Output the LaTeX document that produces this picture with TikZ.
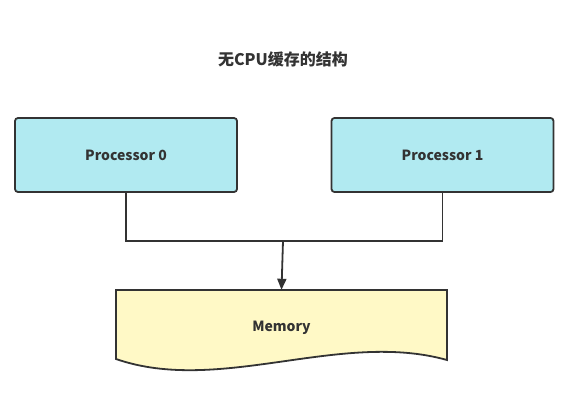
\documentclass[tikz,border=0pt]{standalone}
\usepackage{fontspec}
\setmainfont{Noto Sans CJK SC}
\usepackage{xcolor}
\usepackage{tikz}
\usetikzlibrary{positioning,arrows.meta}

\definecolor{linegray}{HTML}{333333}
\definecolor{procfill}{HTML}{B1EAF1}
\definecolor{memfill}{HTML}{FFF9C6}

\begin{document}
\begin{tikzpicture}[x=1pt, y=-1pt,
    title/.style={font=\fontsize{16pt}{19pt}\selectfont\bfseries, text=linegray},
    proc/.style={rectangle, draw=linegray, line width=1.8pt, rounded corners=3pt, fill=procfill,
        minimum width=222pt, minimum height=74pt, font=\fontsize{14pt}{17pt}\selectfont\bfseries, text=linegray},
    mem/.style={rectangle, minimum width=331pt, minimum height=70pt, font=\fontsize{14pt}{17pt}\selectfont\bfseries, text=linegray},
    wire/.style={draw=linegray, line width=1.8pt},
    arrow/.style={wire, -{Triangle[length=11pt, width=9pt]}}]
    \useasboundingbox (0,0) rectangle (577,404);

    \node[title] (title) at (283,59) {无CPU缓存的结构};
    \node[proc] (p0) at (126,155) {Processor 0};
    \node[proc] (p1) at (442.5,155) {Processor 1};
    \node[mem] (mem) at (281.5,325) {};

    % memory shape with wavy bottom
    \draw[wire, fill=memfill] (116,290) -- (447,290) -- (447,360)
        .. controls (340,330) and (220,395) .. (116,359) -- cycle;
    \node[mem] (memtext) at (281.5,328) {Memory};

    \coordinate (bus) at (283,241);
    \draw[wire] (p0.south) |- (bus) -| (p1.south);
    \draw[arrow] (bus) -- (mem.north);
\end{tikzpicture}
\end{document}
